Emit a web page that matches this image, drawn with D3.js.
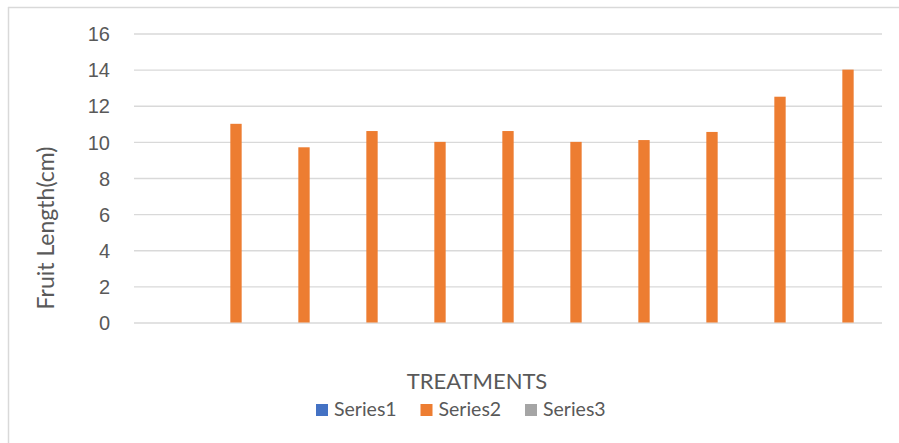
<!DOCTYPE html>
<html>
<head>
<meta charset="utf-8">
<script src="https://cdn.jsdelivr.net/npm/d3@7"></script>
<style>
  html, body { margin: 0; padding: 0; background: #fff; }
  svg { display: block; font-family: Lato, "Open Sans", sans-serif; }
</style>
</head>
<body>
<svg id="chart" width="899" height="443"></svg>
<script>
// Category slots along the x axis (labels are left blank on the axis)
const categories = ["", "", "", "", "", "", "", "", "", "", ""];
const seriesNames = ["Series1", "Series2", "Series3"];
// Fruit length (cm) per treatment; null = no value entered
const series1 = [null, null, null, null, null, null, null, null, null, null, null];
const series2 = [null, 11.0, 9.7, 10.6, 10.0, 10.6, 10.0, 10.1, 10.55, 12.5, 14.0];
const series3 = [null, null, null, null, null, null, null, null, null, null, null];
const yTicks = [0, 2, 4, 6, 8, 10, 12, 14, 16];
const seriesColors = ["#4472C4", "#ED7D31", "#A5A5A5"];

const allSeries = [series1, series2, series3];
const svg = d3.select("#chart");
const W = 899, H = 443;

// chart area frame (top and left edges visible)
svg.append("line").attr("x1", 8).attr("x2", W).attr("y1", 7.5).attr("y2", 7.5)
  .attr("stroke", "#d9d9d9").attr("stroke-width", 1.5);
svg.append("line").attr("x1", 8.5).attr("x2", 8.5).attr("y1", 7).attr("y2", H)
  .attr("stroke", "#d9d9d9").attr("stroke-width", 1.5);

const plot = { left: 134, right: 882, top: 33.5, bottom: 322.5 };

const x0 = d3.scaleBand()
  .domain(d3.range(categories.length))
  .range([plot.left, plot.right])
  .paddingInner(0).paddingOuter(0);

// gap width 300%: three series share half of each slot
const x1 = d3.scaleBand()
  .domain(seriesNames)
  .range([0, x0.bandwidth()])
  .paddingInner(0).paddingOuter(1.5);

const y = d3.scaleLinear().domain([0, 16]).range([plot.bottom, plot.top]);

// horizontal gridlines
const yAxis = d3.axisLeft(y).tickValues(yTicks)
  .tickSize(-(plot.right - plot.left)).tickPadding(24)
  .tickFormat(d3.format("d"));
const gy = svg.append("g").attr("transform", `translate(${plot.left},0)`).call(yAxis);
gy.select(".domain").remove();
gy.selectAll(".tick line").attr("stroke", "#d9d9d9").attr("stroke-width", 1.3);
gy.selectAll(".tick text")
  .attr("fill", "#595959").style("font-size", "20px")
  .attr("dy", "0.36em");

// bars
const rows = [];
categories.forEach((c, i) => {
  seriesNames.forEach((s, j) => {
    const v = allSeries[j][i];
    if (v !== null) rows.push({ i, s, j, v });
  });
});
svg.append("g").selectAll("rect").data(rows).join("rect")
  .attr("x", d => x0(d.i) + x1(d.s))
  .attr("width", x1.bandwidth())
  .attr("y", d => y(d.v))
  .attr("height", d => y(0) - y(d.v))
  .attr("fill", d => seriesColors[d.j]);

// x-axis category labels (blank)
svg.append("g").selectAll("text").data(categories).join("text")
  .attr("x", (d, i) => x0(i) + x0.bandwidth() / 2)
  .attr("y", plot.bottom + 24)
  .attr("text-anchor", "middle").attr("fill", "#595959")
  .style("font-size", "20px").text(d => d);

// axis titles
svg.append("text")
  .attr("transform", `translate(54,${(plot.top + plot.bottom) / 2 + 50}) rotate(-90)`)
  .attr("text-anchor", "middle").attr("fill", "#595959")
  .style("font-size", "23px").text("Fruit Length(cm)");

svg.append("text")
  .attr("x", 477).attr("y", 389)
  .attr("text-anchor", "middle").attr("fill", "#595959")
  .style("font-size", "22px").text("TREATMENTS");

// legend
const legend = svg.append("g").attr("transform", "translate(316,404)");
const item = legend.selectAll("g").data(seriesNames).join("g")
  .attr("transform", (d, i) => `translate(${i * 104.5},0)`);
item.append("rect").attr("width", 12).attr("height", 12)
  .attr("fill", (d, i) => seriesColors[i]);
item.append("text").attr("x", 18).attr("y", 12)
  .attr("fill", "#595959").style("font-size", "19.5px").text(d => d);
</script>
</body>
</html>
